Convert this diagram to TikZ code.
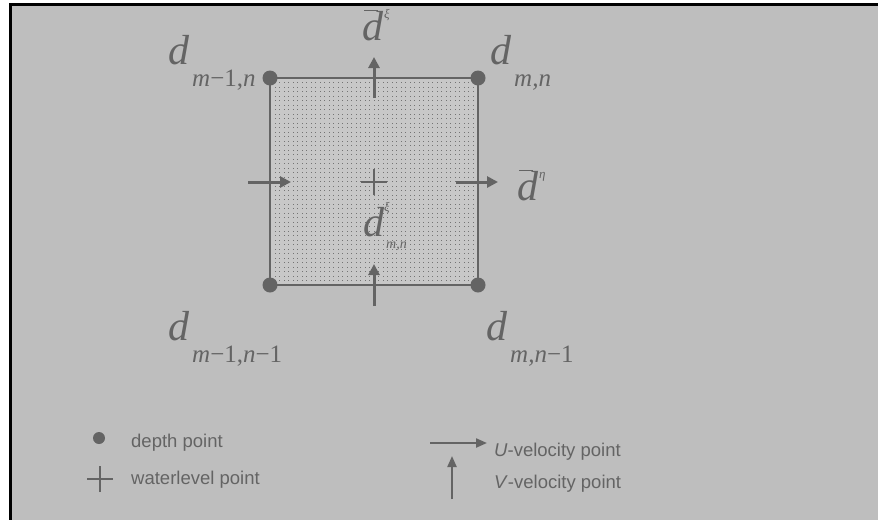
\documentclass[tikz,border=0pt]{standalone}
\usepackage{fontspec}
\setmainfont{Liberation Serif}
\newfontfamily\legfont{Liberation Sans}
\usetikzlibrary{arrows.meta,patterns}
\definecolor{bg}{HTML}{BEBEBE}
\definecolor{ink}{HTML}{646464}
\pgfdeclarepatternformonly{sparsedots}{\pgfqpoint{-1pt}{-1pt}}{\pgfqpoint{5pt}{5pt}}{\pgfqpoint{4.5pt}{4.5pt}}{%
  \pgfpathrectangle{\pgfqpoint{0pt}{0pt}}{\pgfqpoint{1.1pt}{1.1pt}}\pgfusepath{fill}}
\newcommand{\bigd}{{\fontsize{42}{42}\selectfont\itshape d}}
\newcommand{\subx}[1]{\hspace{3pt}\raisebox{-22pt}{\fontsize{25}{25}\selectfont #1}}
\newcommand{\barbigd}{\rlap{\raisebox{29pt}{\hspace{2pt}\rule{14pt}{1.2pt}}}\bigd}
\newcommand{\supx}[1]{\hspace{1pt}\raisebox{22pt}{\fontsize{13}{13}\selectfont\itshape #1}}
\begin{document}
\begin{tikzpicture}[x=1pt,y=-1pt,
  lab/.style={inner sep=0pt,anchor=base west,text=ink},
  leg/.style={inner sep=0pt,anchor=base west,text=ink,font=\legfont\fontsize{18.5}{18.5}\selectfont},
  depthpt/.style={circle,fill=ink,inner sep=0pt,minimum size=15pt},
  varrow/.style={draw=ink,line width=3pt,-{Triangle[length=11pt,width=11pt]}},
  legarrow/.style={draw=ink,line width=2.2pt,-{Triangle[length=11pt,width=9pt]}},
  crossln/.style={draw=ink,line width=2.5pt}]
\useasboundingbox (0,0) rectangle (878,520);
\fill[white] (0,0) rectangle (878,520);
\fill[bg] (12,6) rectangle (878,520);
\fill[black] (9,3) rectangle (12,520);
\fill[black] (9,3) rectangle (878,6);
% cell
\fill[bg!85!white] (270,78) rectangle (478,285);
\fill[pattern=sparsedots,pattern color=ink!90] (270,78) rectangle (478,285);
\draw[ink,line width=2.5pt] (270,78) rectangle (478,285);
\node[depthpt] (c1) at (270,78) {};
\node[depthpt] (c2) at (478,78) {};
\node[depthpt] (c3) at (270,285) {};
\node[depthpt] (c4) at (478,285) {};
% velocity points
\coordinate (ts) at (374,98);
\coordinate (te) at (374,57);
\draw[varrow] (ts) -- (te);
\coordinate (bs) at (374,306);
\coordinate (be) at (374,264);
\draw[varrow] (bs) -- (be);
\coordinate (ls) at (248,182);
\coordinate (le) at (291,182);
\draw[varrow] (ls) -- (le);
\coordinate (rs) at (456,182);
\coordinate (re) at (498,182);
\draw[varrow] (rs) -- (re);
% water level
\coordinate (wl) at (374,182);
\draw[crossln] ([xshift=-13pt]wl) -- ([xshift=13pt]wl);
\draw[crossln] ([yshift=-13pt]wl) -- ([yshift=13pt]wl);
% labels
\node[lab] (l1) at (168,64) {\bigd\subx{\itshape m\upshape−1,\itshape n}};
\node[lab] (l2) at (490,64) {\bigd\subx{\itshape m,n}};
\node[lab] (l3) at (168,340) {\bigd\subx{\itshape m\upshape−1,\itshape n\upshape−1}};
\node[lab] (l4) at (486,340) {\bigd\subx{\itshape m,n\upshape−1}};
\node[lab] (lx) at (362,40) {\barbigd\supx{ξ}};
\node[lab] (ly) at (517,200) {\barbigd\supx{η}};
\node[lab] (lc) at (363,236) {{\fontsize{42}{42}\selectfont\itshape d}\rlap{\raisebox{25pt}{\fontsize{13}{13}\selectfont\itshape ξ}}\hspace{2pt}\raisebox{-12pt}{\fontsize{14}{14}\selectfont\itshape m,n}};
% legend
\node[depthpt,minimum size=12pt] (k1) at (99,438) {};
\node[leg] (t1) at (131,447) {depth point};
\coordinate (k2) at (100,479);
\draw[crossln,line width=1.6pt] ([xshift=-13pt]k2) -- ([xshift=13pt]k2);
\draw[crossln,line width=1.6pt] ([yshift=-13pt]k2) -- ([yshift=13pt]k2);
\node[leg] (t2) at (131,484) {waterlevel point};
\coordinate (k3s) at (430,443);
\coordinate (k3e) at (487,443);
\draw[legarrow] (k3s) -- (k3e);
\coordinate (k4s) at (452,499);
\coordinate (k4e) at (452,456);
\draw[legarrow] (k4s) -- (k4e);
\node[leg] (t3) at (494,456) {\textit{U}-velocity point};
\node[leg] (t4) at (494,488) {\textit{V}-velocity point};
\end{tikzpicture}
\end{document}
